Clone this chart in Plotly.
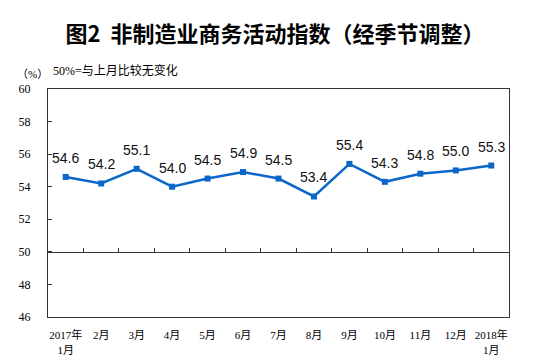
import plotly.graph_objects as go

categories = ["2017年<br>1月", "2月", "3月", "4月", "5月", "6月", "7月", "8月", "9月", "10月", "11月", "12月", "2018年<br>1月"]
values = [54.6, 54.2, 55.1, 54.0, 54.5, 54.9, 54.5, 53.4, 55.4, 54.3, 54.8, 55.0, 55.3]
y_ticks = [46, 48, 50, 52, 54, 56, 58, 60]
baseline = 50

n = len(categories)
xs = list(range(n))
y_min, y_max = 46, 60

fig = go.Figure()
fig.add_trace(go.Scatter(
    x=xs, y=values, mode="lines+markers",
    line=dict(color="#0a66c8", width=2.5),
    marker=dict(symbol="square", size=6, color="#0a66c8"),
    cliponaxis=False, showlegend=False, hoverinfo="skip",
))
# invisible trace for the baseline axis
fig.add_trace(go.Scatter(x=[0], y=[baseline], xaxis="x2", mode="markers",
                         marker=dict(opacity=0), showlegend=False, hoverinfo="skip"))

serif = "Liberation Serif, Times New Roman, Noto Sans CJK SC"
annotations = [
    dict(text=f"{v:.1f}", x=x, y=v, xref="x", yref="y", yshift=19, showarrow=False,
         font=dict(family="Liberation Sans, Arial", size=14, color="#111"))
    for x, v in zip(xs, values)
]
annotations += [
    dict(text="（%）", x=0, xref="paper", xanchor="left", xshift=-33, y=1, yref="paper",
         yanchor="middle", yshift=15, showarrow=False,
         font=dict(family=serif, size=11, color="#000")),
    dict(text="50%=与上月比较无变化", x=0, xref="paper", xanchor="left", xshift=3, y=1,
         yref="paper", yanchor="middle", yshift=19, showarrow=False,
         font=dict(family=serif, size=12, color="#000")),
]

W, H = 546, 353  # page body has an 8px margin in the 554x361 window
fig.update_layout(
    width=W, height=H,
    margin=dict(l=40, r=45, t=81, b=44),
    paper_bgcolor="white", plot_bgcolor="white",
    title=dict(text="<b>图2  非制造业商务活动指数（经季节调整）</b>",
               x=267/W, xanchor="center", xref="container",
               y=1-26/H, yref="container", yanchor="middle", automargin=False,
               font=dict(family="Noto Sans CJK SC", size=22, color="#000")),
    xaxis=dict(range=[-0.5, n - 0.5], tickmode="array", tickvals=xs, ticktext=categories,
               ticks="", showline=True, linecolor="#333", linewidth=1, mirror=True,
               showgrid=False, zeroline=False, automargin=False, ticklabelstandoff=8,
               tickfont=dict(family=serif, size=11, color="#000")),
    xaxis2=dict(range=[-0.5, n - 0.5], overlaying="x", anchor="free",
                position=(baseline - y_min) / (y_max - y_min),
                tickmode="array", tickvals=[i + 0.5 for i in range(n - 1)],
                ticks="inside", ticklen=4, tickcolor="#333", showticklabels=False,
                showline=True, linecolor="#333", linewidth=1, showgrid=False, zeroline=False,
                automargin=False),
    yaxis=dict(range=[y_min, y_max], tickmode="array", tickvals=y_ticks,
               ticks="inside", ticklen=4, tickcolor="#333",
               showline=True, linecolor="#333", linewidth=1, mirror=True,
               showgrid=False, zeroline=False, automargin=False, ticklabelstandoff=14,
               tickfont=dict(family=serif, size=12, color="#000")),
    annotations=annotations,
)

fig.write_html("out.html")
